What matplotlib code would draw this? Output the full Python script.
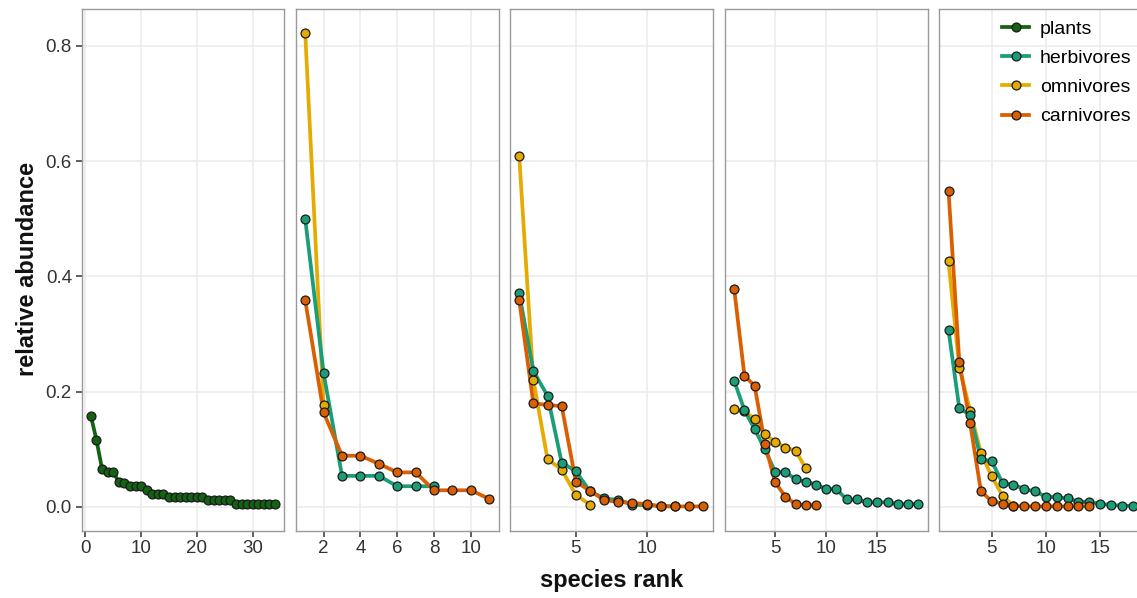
import matplotlib
matplotlib.use('Agg')
import matplotlib.pyplot as plt
from matplotlib.lines import Line2D

plt.rcParams['font.family'] = ['Liberation Sans', 'DejaVu Sans']

# ---------------- data ----------------
groups = ['plants', 'herbivores', 'omnivores', 'carnivores']
colors = {'plants': '#146314', 'herbivores': '#1b9e77',
          'omnivores': '#e6ab02', 'carnivores': '#d95f02'}

# panel 1
plants_1 = [0.158, 0.116, 0.066, 0.061, 0.061, 0.043, 0.042, 0.036, 0.036, 0.036,
            0.030, 0.023, 0.023, 0.023, 0.018, 0.018, 0.018, 0.018, 0.018, 0.018,
            0.018, 0.012, 0.012, 0.012, 0.012, 0.012, 0.005, 0.005, 0.005, 0.005,
            0.005, 0.005, 0.005, 0.005]
# panel 2
herbivores_2 = [0.500, 0.232, 0.054, 0.054, 0.054, 0.036, 0.036, 0.036]
omnivores_2 = [0.823, 0.177]
carnivores_2 = [0.359, 0.164, 0.089, 0.089, 0.075, 0.060, 0.060, 0.029, 0.029, 0.029, 0.014]
# panel 3
herbivores_3 = [0.371, 0.236, 0.193, 0.077, 0.062, 0.027, 0.015, 0.012, 0.004, 0.003, 0.002, 0.001]
omnivores_3 = [0.609, 0.220, 0.083, 0.065, 0.021, 0.004]
carnivores_3 = [0.359, 0.180, 0.177, 0.175, 0.044, 0.028, 0.012, 0.009, 0.007, 0.005,
                0.001, 0.001, 0.001, 0.001]
# panel 4
herbivores_4 = [0.219, 0.168, 0.135, 0.100, 0.061, 0.061, 0.048, 0.044, 0.039, 0.031,
                0.031, 0.013, 0.013, 0.008, 0.008, 0.008, 0.005, 0.005, 0.005]
omnivores_4 = [0.170, 0.166, 0.153, 0.126, 0.113, 0.103, 0.098, 0.067]
carnivores_4 = [0.378, 0.228, 0.210, 0.110, 0.043, 0.018, 0.005, 0.003, 0.003]
# panel 5
herbivores_5 = [0.307, 0.171, 0.160, 0.083, 0.079, 0.041, 0.039, 0.031, 0.027, 0.018,
                0.017, 0.015, 0.009, 0.009, 0.005, 0.004, 0.002, 0.002]
omnivores_5 = [0.426, 0.242, 0.167, 0.093, 0.053, 0.019, 0.002]
carnivores_5 = [0.549, 0.251, 0.145, 0.027, 0.010, 0.006, 0.002, 0.001, 0.001, 0.001,
                0.001, 0.001, 0.001, 0.001]

panels = [
    {'plants': plants_1},
    {'herbivores': herbivores_2, 'omnivores': omnivores_2, 'carnivores': carnivores_2},
    {'herbivores': herbivores_3, 'omnivores': omnivores_3, 'carnivores': carnivores_3},
    {'herbivores': herbivores_4, 'omnivores': omnivores_4, 'carnivores': carnivores_4},
    {'herbivores': herbivores_5, 'omnivores': omnivores_5, 'carnivores': carnivores_5},
]
xticks = [[0, 10, 20, 30], [2, 4, 6, 8, 10], [5, 10], [5, 10, 15], [5, 10, 15]]
yticks = [0.0, 0.2, 0.4, 0.6, 0.8]
ytick_labels = ['0.0', '0.2', '0.4', '0.6', '0.8']
draw_order = ['plants', 'omnivores', 'herbivores', 'carnivores']

# ---------------- layout ----------------
W, H = 1137, 598
fig = plt.figure(figsize=(W / 100, H / 100), dpi=100)
panel_left = [81.7, 296.0, 510.0, 725.0, 939.3]
panel_w = 202.5
panel_top, panel_bot = 9.0, 530.7

all_vals = [v for p in panels for s in p.values() for v in s]
ymax = max(all_vals)
ymin = 0.0
yr = ymax - ymin
ylim = (ymin - 0.05 * yr, ymax + 0.05 * yr)

tick_col = '#333333'
grid_col = '#ebebeb'
border_col = '#9a9a9a'
LW = 2.7
MS = 6.4
MEW = 0.9

axes = []
for i, p in enumerate(panels):
    ax = fig.add_axes([panel_left[i] / W, 1 - panel_bot / H, panel_w / W,
                       (panel_bot - panel_top) / H])
    axes.append(ax)
    nmax = max(len(s) for s in p.values())
    xr = nmax - 1
    ax.set_xlim(1 - 0.05 * xr, nmax + 0.05 * xr)
    ax.set_ylim(*ylim)
    for zi, g in enumerate(draw_order):
        if g not in p:
            continue
        vals = p[g]
        x = list(range(1, len(vals) + 1))
        ax.plot(x, vals, '-', color=colors[g], lw=LW, zorder=2 + zi * 0.01,
                solid_capstyle='butt')
    for zi, g in enumerate(draw_order):
        if g not in p:
            continue
        vals = p[g]
        x = list(range(1, len(vals) + 1))
        ax.plot(x, vals, 'o', color=colors[g], markersize=MS,
                markeredgecolor='#1a1a1a', markeredgewidth=MEW, zorder=3 + zi * 0.01)
    ax.set_xticks(xticks[i])
    ax.set_yticks(yticks)
    ax.grid(True, color=grid_col, lw=1.1, zorder=0)
    ax.set_axisbelow(True)
    for s in ax.spines.values():
        s.set_color(border_col)
        s.set_linewidth(1.0)
    ax.tick_params(axis='x', length=4, width=1.1, color=tick_col, labelsize=13.5,
                   labelcolor=tick_col, pad=3)
    if i == 0:
        ax.set_yticklabels(ytick_labels)
        ax.tick_params(axis='y', length=4, width=1.1, color=tick_col, labelsize=13.5,
                       labelcolor=tick_col, pad=3)
    else:
        ax.tick_params(axis='y', length=0, labelleft=False)

fig.text(612 / W, 1 - 581 / H, 'species rank', ha='center', va='center',
         fontsize=17, fontweight='bold', color='#111111')
fig.text(28 / W, 1 - 269 / H, 'relative abundance', ha='center', va='center',
         rotation=90, fontsize=17, fontweight='bold', color='#111111')

handles = [Line2D([0], [0], color=colors[g], lw=LW, marker='o', markersize=MS,
                  markeredgecolor='#1a1a1a', markeredgewidth=MEW) for g in groups]
fig.legend(handles, groups, loc='upper left', bbox_to_anchor=(1002 / W, 1 - 20 / H),
           frameon=False, fontsize=14, handlelength=1.4, handletextpad=0.55,
           labelspacing=0.6, borderaxespad=0, borderpad=0)

fig.savefig('out.png', dpi=100)
